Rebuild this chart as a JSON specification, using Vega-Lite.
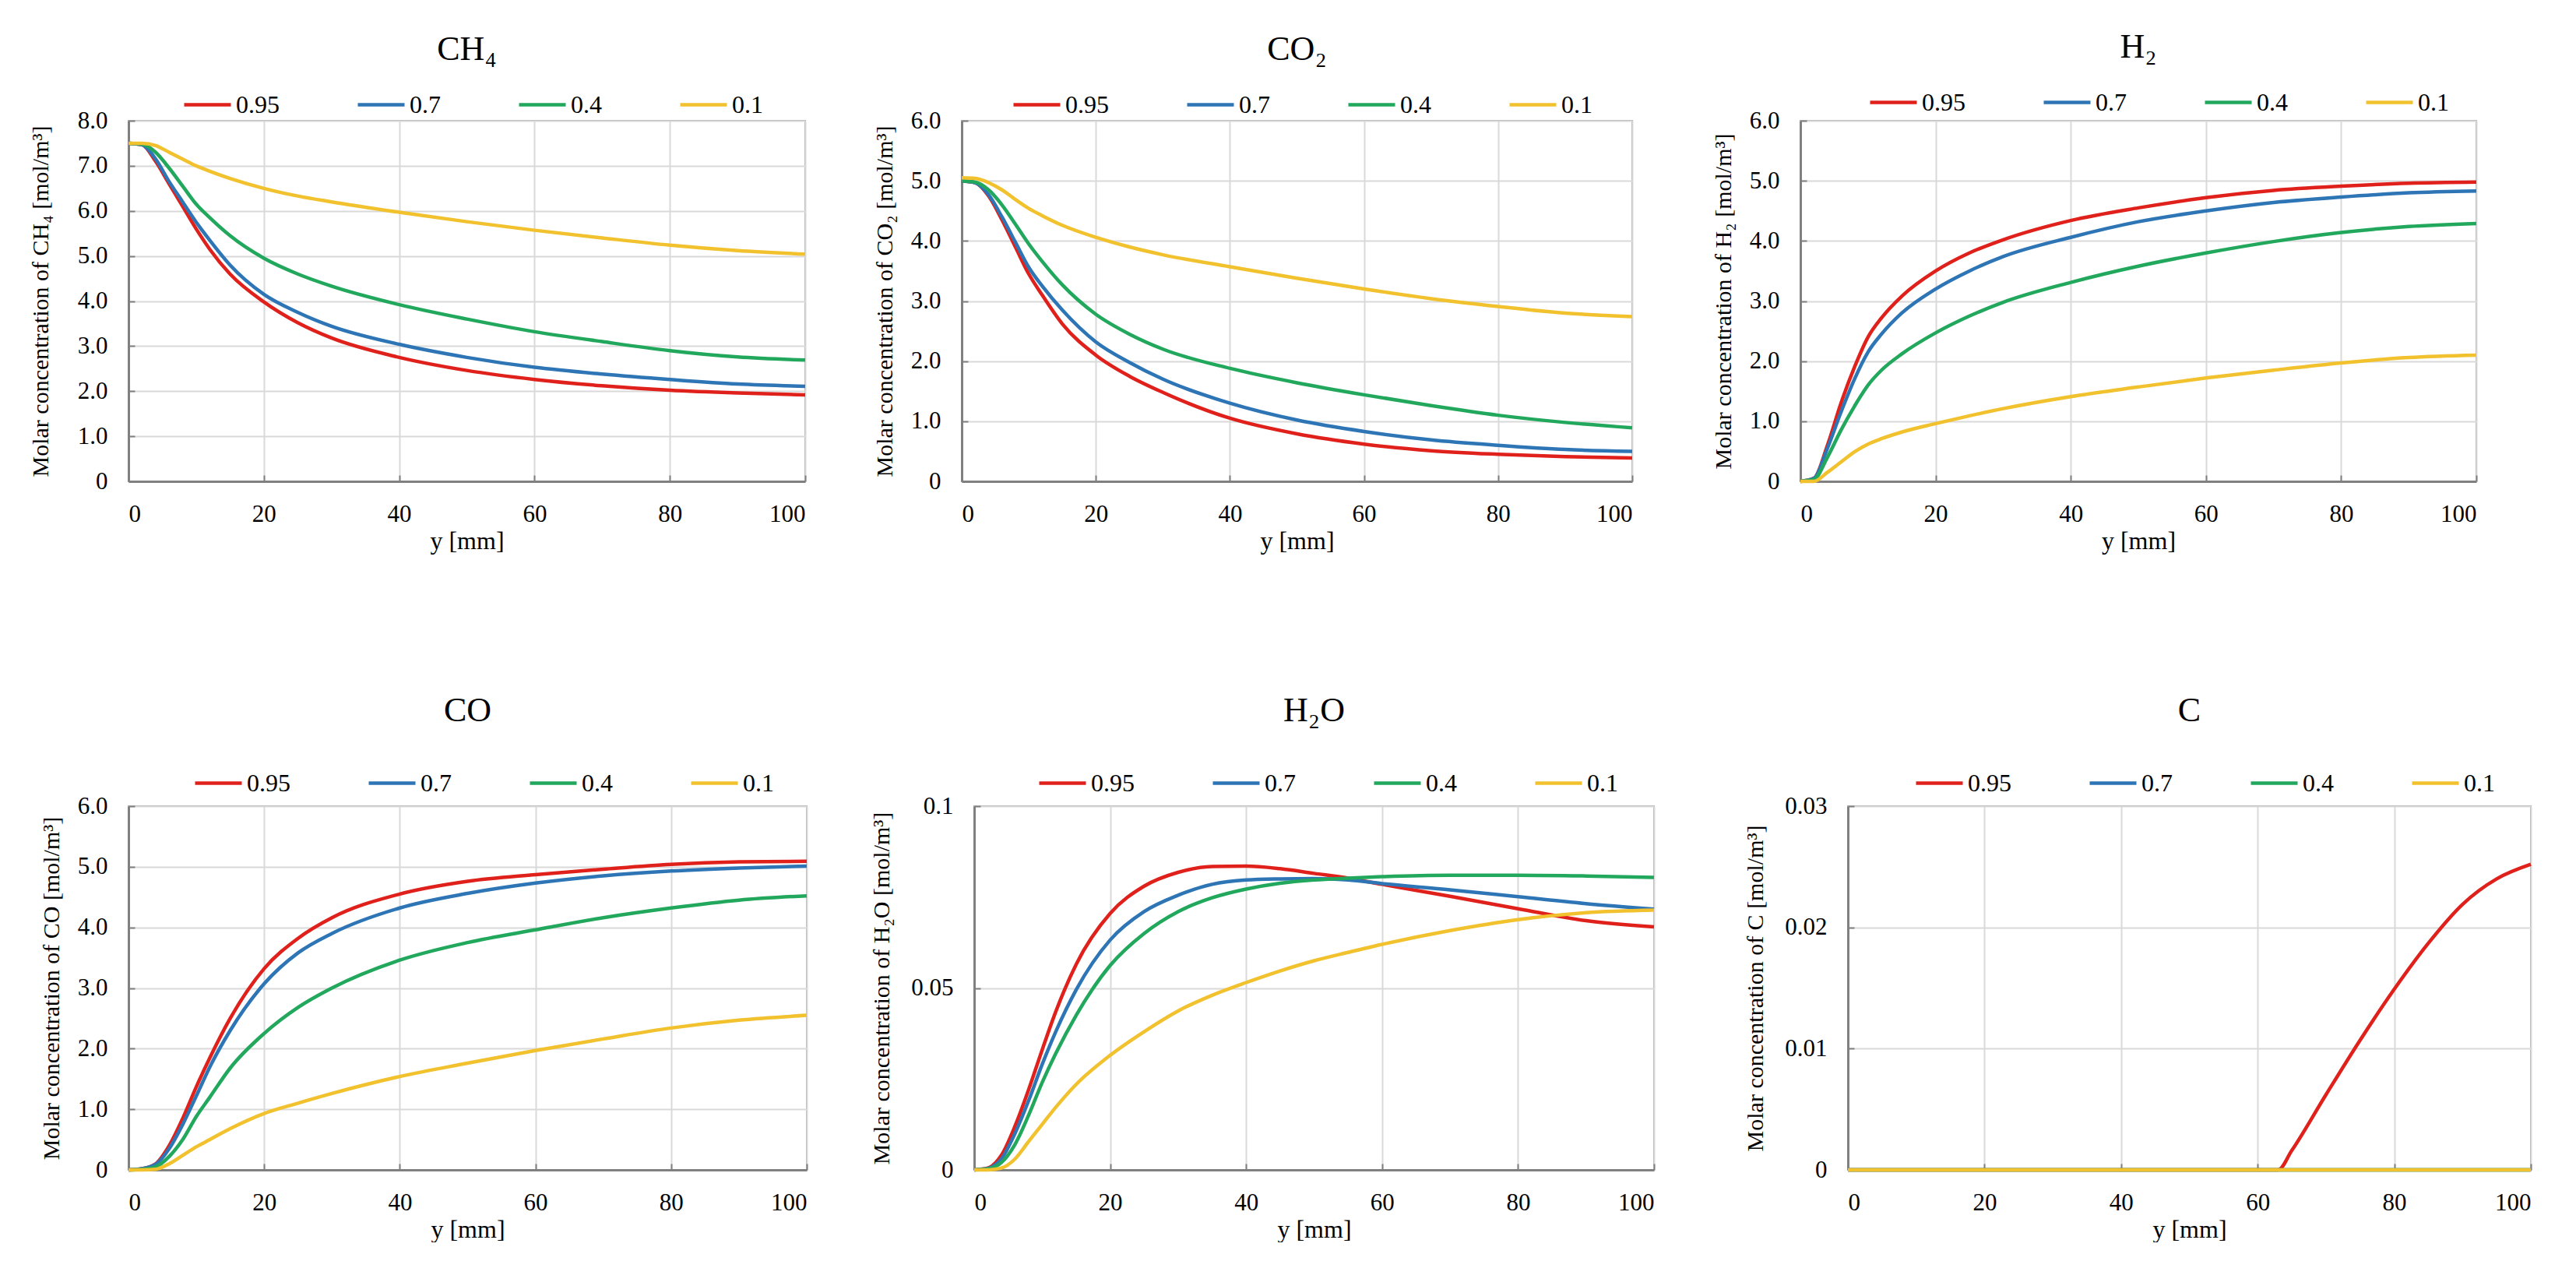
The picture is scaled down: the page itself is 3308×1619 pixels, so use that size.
{
  "$schema": "https://vega.github.io/schema/vega-lite/v6.json",
  "background": "white",
  "padding": {"left": 36, "top": 38, "right": 0, "bottom": 0},
  "datasets": {
    "CH4": [
      {"p":"0.95","x":0,"c":7.5},{"p":"0.95","x":2,"c":7.47},{"p":"0.95","x":4,"c":7.1},{"p":"0.95","x":6,"c":6.6},{"p":"0.95","x":8,"c":6.1},{"p":"0.95","x":10,"c":5.6},{"p":"0.95","x":12,"c":5.15},{"p":"0.95","x":15,"c":4.6},{"p":"0.95","x":20,"c":3.98},{"p":"0.95","x":25,"c":3.52},{"p":"0.95","x":30,"c":3.18},{"p":"0.95","x":40,"c":2.75},{"p":"0.95","x":50,"c":2.46},{"p":"0.95","x":60,"c":2.26},{"p":"0.95","x":70,"c":2.12},{"p":"0.95","x":80,"c":2.02},{"p":"0.95","x":90,"c":1.96},{"p":"0.95","x":100,"c":1.92},
      {"p":"0.7","x":0,"c":7.5},{"p":"0.7","x":2,"c":7.47},{"p":"0.7","x":4,"c":7.15},{"p":"0.7","x":6,"c":6.65},{"p":"0.7","x":8,"c":6.2},{"p":"0.7","x":10,"c":5.75},{"p":"0.7","x":12,"c":5.35},{"p":"0.7","x":15,"c":4.8},{"p":"0.7","x":20,"c":4.15},{"p":"0.7","x":25,"c":3.75},{"p":"0.7","x":30,"c":3.44},{"p":"0.7","x":40,"c":3.04},{"p":"0.7","x":50,"c":2.75},{"p":"0.7","x":60,"c":2.53},{"p":"0.7","x":70,"c":2.38},{"p":"0.7","x":80,"c":2.26},{"p":"0.7","x":90,"c":2.16},{"p":"0.7","x":100,"c":2.11},
      {"p":"0.4","x":0,"c":7.5},{"p":"0.4","x":2,"c":7.48},{"p":"0.4","x":4,"c":7.3},{"p":"0.4","x":6,"c":6.95},{"p":"0.4","x":8,"c":6.55},{"p":"0.4","x":10,"c":6.15},{"p":"0.4","x":12,"c":5.85},{"p":"0.4","x":15,"c":5.45},{"p":"0.4","x":20,"c":4.95},{"p":"0.4","x":25,"c":4.6},{"p":"0.4","x":30,"c":4.33},{"p":"0.4","x":40,"c":3.92},{"p":"0.4","x":50,"c":3.6},{"p":"0.4","x":60,"c":3.32},{"p":"0.4","x":70,"c":3.1},{"p":"0.4","x":80,"c":2.9},{"p":"0.4","x":90,"c":2.76},{"p":"0.4","x":100,"c":2.69},
      {"p":"0.1","x":0,"c":7.5},{"p":"0.1","x":2,"c":7.5},{"p":"0.1","x":4,"c":7.45},{"p":"0.1","x":6,"c":7.3},{"p":"0.1","x":8,"c":7.15},{"p":"0.1","x":10,"c":7.0},{"p":"0.1","x":12,"c":6.88},{"p":"0.1","x":15,"c":6.72},{"p":"0.1","x":20,"c":6.5},{"p":"0.1","x":25,"c":6.33},{"p":"0.1","x":30,"c":6.2},{"p":"0.1","x":40,"c":5.97},{"p":"0.1","x":50,"c":5.76},{"p":"0.1","x":60,"c":5.57},{"p":"0.1","x":70,"c":5.4},{"p":"0.1","x":80,"c":5.24},{"p":"0.1","x":90,"c":5.12},{"p":"0.1","x":100,"c":5.04}
    ],
    "CO2": [
      {"p":"0.95","x":0,"c":5.0},{"p":"0.95","x":2,"c":4.97},{"p":"0.95","x":4,"c":4.75},{"p":"0.95","x":6,"c":4.35},{"p":"0.95","x":8,"c":3.9},{"p":"0.95","x":10,"c":3.45},{"p":"0.95","x":12,"c":3.1},{"p":"0.95","x":15,"c":2.62},{"p":"0.95","x":20,"c":2.1},{"p":"0.95","x":25,"c":1.75},{"p":"0.95","x":30,"c":1.48},{"p":"0.95","x":40,"c":1.05},{"p":"0.95","x":50,"c":0.79},{"p":"0.95","x":60,"c":0.62},{"p":"0.95","x":70,"c":0.51},{"p":"0.95","x":80,"c":0.45},{"p":"0.95","x":90,"c":0.41},{"p":"0.95","x":100,"c":0.39},
      {"p":"0.7","x":0,"c":5.0},{"p":"0.7","x":2,"c":4.97},{"p":"0.7","x":4,"c":4.77},{"p":"0.7","x":6,"c":4.4},{"p":"0.7","x":8,"c":3.98},{"p":"0.7","x":10,"c":3.56},{"p":"0.7","x":12,"c":3.25},{"p":"0.7","x":15,"c":2.85},{"p":"0.7","x":20,"c":2.32},{"p":"0.7","x":25,"c":1.98},{"p":"0.7","x":30,"c":1.7},{"p":"0.7","x":40,"c":1.3},{"p":"0.7","x":50,"c":1.02},{"p":"0.7","x":60,"c":0.83},{"p":"0.7","x":70,"c":0.69},{"p":"0.7","x":80,"c":0.6},{"p":"0.7","x":90,"c":0.53},{"p":"0.7","x":100,"c":0.5},
      {"p":"0.4","x":0,"c":5.0},{"p":"0.4","x":2,"c":4.98},{"p":"0.4","x":4,"c":4.85},{"p":"0.4","x":6,"c":4.6},{"p":"0.4","x":8,"c":4.28},{"p":"0.4","x":10,"c":3.95},{"p":"0.4","x":12,"c":3.66},{"p":"0.4","x":15,"c":3.27},{"p":"0.4","x":20,"c":2.78},{"p":"0.4","x":25,"c":2.45},{"p":"0.4","x":30,"c":2.2},{"p":"0.4","x":40,"c":1.88},{"p":"0.4","x":50,"c":1.64},{"p":"0.4","x":60,"c":1.44},{"p":"0.4","x":70,"c":1.26},{"p":"0.4","x":80,"c":1.1},{"p":"0.4","x":90,"c":0.98},{"p":"0.4","x":100,"c":0.89},
      {"p":"0.1","x":0,"c":5.05},{"p":"0.1","x":2,"c":5.04},{"p":"0.1","x":4,"c":4.97},{"p":"0.1","x":6,"c":4.85},{"p":"0.1","x":8,"c":4.69},{"p":"0.1","x":10,"c":4.54},{"p":"0.1","x":12,"c":4.42},{"p":"0.1","x":15,"c":4.26},{"p":"0.1","x":20,"c":4.06},{"p":"0.1","x":25,"c":3.9},{"p":"0.1","x":30,"c":3.77},{"p":"0.1","x":40,"c":3.57},{"p":"0.1","x":50,"c":3.38},{"p":"0.1","x":60,"c":3.2},{"p":"0.1","x":70,"c":3.04},{"p":"0.1","x":80,"c":2.91},{"p":"0.1","x":90,"c":2.8},{"p":"0.1","x":100,"c":2.74}
    ],
    "H2": [
      {"p":"0.95","x":0,"c":0},{"p":"0.95","x":2,"c":0.05},{"p":"0.95","x":4,"c":0.6},{"p":"0.95","x":6,"c":1.3},{"p":"0.95","x":8,"c":1.9},{"p":"0.95","x":10,"c":2.4},{"p":"0.95","x":12,"c":2.72},{"p":"0.95","x":15,"c":3.08},{"p":"0.95","x":20,"c":3.5},{"p":"0.95","x":25,"c":3.8},{"p":"0.95","x":30,"c":4.02},{"p":"0.95","x":40,"c":4.34},{"p":"0.95","x":50,"c":4.55},{"p":"0.95","x":60,"c":4.72},{"p":"0.95","x":70,"c":4.84},{"p":"0.95","x":80,"c":4.91},{"p":"0.95","x":90,"c":4.96},{"p":"0.95","x":100,"c":4.98},
      {"p":"0.7","x":0,"c":0},{"p":"0.7","x":2,"c":0.05},{"p":"0.7","x":4,"c":0.55},{"p":"0.7","x":6,"c":1.15},{"p":"0.7","x":8,"c":1.7},{"p":"0.7","x":10,"c":2.15},{"p":"0.7","x":12,"c":2.45},{"p":"0.7","x":15,"c":2.8},{"p":"0.7","x":20,"c":3.2},{"p":"0.7","x":25,"c":3.5},{"p":"0.7","x":30,"c":3.74},{"p":"0.7","x":40,"c":4.06},{"p":"0.7","x":50,"c":4.32},{"p":"0.7","x":60,"c":4.5},{"p":"0.7","x":70,"c":4.64},{"p":"0.7","x":80,"c":4.73},{"p":"0.7","x":90,"c":4.8},{"p":"0.7","x":100,"c":4.83},
      {"p":"0.4","x":0,"c":0},{"p":"0.4","x":2,"c":0.03},{"p":"0.4","x":4,"c":0.4},{"p":"0.4","x":6,"c":0.85},{"p":"0.4","x":8,"c":1.25},{"p":"0.4","x":10,"c":1.6},{"p":"0.4","x":12,"c":1.85},{"p":"0.4","x":15,"c":2.12},{"p":"0.4","x":20,"c":2.47},{"p":"0.4","x":25,"c":2.75},{"p":"0.4","x":30,"c":2.98},{"p":"0.4","x":40,"c":3.31},{"p":"0.4","x":50,"c":3.58},{"p":"0.4","x":60,"c":3.8},{"p":"0.4","x":70,"c":3.99},{"p":"0.4","x":80,"c":4.14},{"p":"0.4","x":90,"c":4.24},{"p":"0.4","x":100,"c":4.29},
      {"p":"0.1","x":0,"c":0},{"p":"0.1","x":2,"c":0.0},{"p":"0.1","x":4,"c":0.15},{"p":"0.1","x":6,"c":0.32},{"p":"0.1","x":8,"c":0.49},{"p":"0.1","x":10,"c":0.62},{"p":"0.1","x":12,"c":0.71},{"p":"0.1","x":15,"c":0.82},{"p":"0.1","x":20,"c":0.96},{"p":"0.1","x":25,"c":1.09},{"p":"0.1","x":30,"c":1.21},{"p":"0.1","x":40,"c":1.41},{"p":"0.1","x":50,"c":1.57},{"p":"0.1","x":60,"c":1.72},{"p":"0.1","x":70,"c":1.85},{"p":"0.1","x":80,"c":1.97},{"p":"0.1","x":90,"c":2.06},{"p":"0.1","x":100,"c":2.1}
    ],
    "CO": [
      {"p":"0.95","x":0,"c":0},{"p":"0.95","x":2,"c":0.02},{"p":"0.95","x":4,"c":0.1},{"p":"0.95","x":6,"c":0.4},{"p":"0.95","x":8,"c":0.85},{"p":"0.95","x":10,"c":1.37},{"p":"0.95","x":12,"c":1.85},{"p":"0.95","x":15,"c":2.5},{"p":"0.95","x":20,"c":3.32},{"p":"0.95","x":25,"c":3.82},{"p":"0.95","x":30,"c":4.16},{"p":"0.95","x":40,"c":4.55},{"p":"0.95","x":50,"c":4.76},{"p":"0.95","x":60,"c":4.87},{"p":"0.95","x":70,"c":4.96},{"p":"0.95","x":80,"c":5.04},{"p":"0.95","x":90,"c":5.08},{"p":"0.95","x":100,"c":5.09},
      {"p":"0.7","x":0,"c":0},{"p":"0.7","x":2,"c":0.02},{"p":"0.7","x":4,"c":0.09},{"p":"0.7","x":6,"c":0.35},{"p":"0.7","x":8,"c":0.75},{"p":"0.7","x":10,"c":1.22},{"p":"0.7","x":12,"c":1.7},{"p":"0.7","x":15,"c":2.3},{"p":"0.7","x":20,"c":3.07},{"p":"0.7","x":25,"c":3.58},{"p":"0.7","x":30,"c":3.9},{"p":"0.7","x":40,"c":4.32},{"p":"0.7","x":50,"c":4.56},{"p":"0.7","x":60,"c":4.73},{"p":"0.7","x":70,"c":4.85},{"p":"0.7","x":80,"c":4.93},{"p":"0.7","x":90,"c":4.98},{"p":"0.7","x":100,"c":5.01},
      {"p":"0.4","x":0,"c":0},{"p":"0.4","x":2,"c":0.01},{"p":"0.4","x":4,"c":0.05},{"p":"0.4","x":6,"c":0.22},{"p":"0.4","x":8,"c":0.5},{"p":"0.4","x":10,"c":0.88},{"p":"0.4","x":12,"c":1.2},{"p":"0.4","x":15,"c":1.68},{"p":"0.4","x":20,"c":2.25},{"p":"0.4","x":25,"c":2.68},{"p":"0.4","x":30,"c":3.0},{"p":"0.4","x":40,"c":3.46},{"p":"0.4","x":50,"c":3.75},{"p":"0.4","x":60,"c":3.96},{"p":"0.4","x":70,"c":4.16},{"p":"0.4","x":80,"c":4.32},{"p":"0.4","x":90,"c":4.45},{"p":"0.4","x":100,"c":4.52},
      {"p":"0.1","x":0,"c":0},{"p":"0.1","x":2,"c":0},{"p":"0.1","x":4,"c":0.01},{"p":"0.1","x":6,"c":0.1},{"p":"0.1","x":8,"c":0.24},{"p":"0.1","x":10,"c":0.38},{"p":"0.1","x":12,"c":0.5},{"p":"0.1","x":15,"c":0.68},{"p":"0.1","x":20,"c":0.93},{"p":"0.1","x":25,"c":1.1},{"p":"0.1","x":30,"c":1.26},{"p":"0.1","x":40,"c":1.54},{"p":"0.1","x":50,"c":1.76},{"p":"0.1","x":60,"c":1.97},{"p":"0.1","x":70,"c":2.16},{"p":"0.1","x":80,"c":2.34},{"p":"0.1","x":90,"c":2.47},{"p":"0.1","x":100,"c":2.55}
    ],
    "H2O": [
      {"p":"0.95","x":0,"c":0},{"p":"0.95","x":2,"c":0.0005},{"p":"0.95","x":4,"c":0.004},{"p":"0.95","x":6,"c":0.012},{"p":"0.95","x":8,"c":0.022},{"p":"0.95","x":10,"c":0.033},{"p":"0.95","x":12,"c":0.0435},{"p":"0.95","x":15,"c":0.0565},{"p":"0.95","x":20,"c":0.0705},{"p":"0.95","x":25,"c":0.078},{"p":"0.95","x":30,"c":0.0818},{"p":"0.95","x":35,"c":0.0834},{"p":"0.95","x":40,"c":0.0835},{"p":"0.95","x":45,"c":0.0828},{"p":"0.95","x":50,"c":0.0815},{"p":"0.95","x":55,"c":0.0802},{"p":"0.95","x":60,"c":0.0785},{"p":"0.95","x":70,"c":0.0752},{"p":"0.95","x":80,"c":0.0718},{"p":"0.95","x":90,"c":0.0685},{"p":"0.95","x":100,"c":0.0668},
      {"p":"0.7","x":0,"c":0},{"p":"0.7","x":2,"c":0.0004},{"p":"0.7","x":4,"c":0.003},{"p":"0.7","x":6,"c":0.01},{"p":"0.7","x":8,"c":0.019},{"p":"0.7","x":10,"c":0.029},{"p":"0.7","x":12,"c":0.038},{"p":"0.7","x":15,"c":0.0495},{"p":"0.7","x":20,"c":0.0632},{"p":"0.7","x":25,"c":0.071},{"p":"0.7","x":30,"c":0.0755},{"p":"0.7","x":35,"c":0.0785},{"p":"0.7","x":40,"c":0.0797},{"p":"0.7","x":45,"c":0.08},{"p":"0.7","x":50,"c":0.0801},{"p":"0.7","x":55,"c":0.0797},{"p":"0.7","x":60,"c":0.0787},{"p":"0.7","x":70,"c":0.077},{"p":"0.7","x":80,"c":0.0751},{"p":"0.7","x":90,"c":0.0732},{"p":"0.7","x":100,"c":0.0717},
      {"p":"0.4","x":0,"c":0},{"p":"0.4","x":2,"c":0.0003},{"p":"0.4","x":4,"c":0.002},{"p":"0.4","x":6,"c":0.007},{"p":"0.4","x":8,"c":0.015},{"p":"0.4","x":10,"c":0.024},{"p":"0.4","x":12,"c":0.032},{"p":"0.4","x":15,"c":0.0425},{"p":"0.4","x":20,"c":0.0562},{"p":"0.4","x":25,"c":0.065},{"p":"0.4","x":30,"c":0.071},{"p":"0.4","x":35,"c":0.0748},{"p":"0.4","x":40,"c":0.0772},{"p":"0.4","x":45,"c":0.0788},{"p":"0.4","x":50,"c":0.0797},{"p":"0.4","x":55,"c":0.0802},{"p":"0.4","x":60,"c":0.0806},{"p":"0.4","x":70,"c":0.081},{"p":"0.4","x":80,"c":0.081},{"p":"0.4","x":90,"c":0.0808},{"p":"0.4","x":100,"c":0.0804},
      {"p":"0.1","x":0,"c":0},{"p":"0.1","x":2,"c":0},{"p":"0.1","x":4,"c":0.0005},{"p":"0.1","x":6,"c":0.003},{"p":"0.1","x":8,"c":0.0078},{"p":"0.1","x":10,"c":0.0125},{"p":"0.1","x":12,"c":0.0172},{"p":"0.1","x":15,"c":0.0235},{"p":"0.1","x":20,"c":0.0315},{"p":"0.1","x":25,"c":0.038},{"p":"0.1","x":30,"c":0.0437},{"p":"0.1","x":35,"c":0.048},{"p":"0.1","x":40,"c":0.0515},{"p":"0.1","x":45,"c":0.0547},{"p":"0.1","x":50,"c":0.0575},{"p":"0.1","x":55,"c":0.0598},{"p":"0.1","x":60,"c":0.062},{"p":"0.1","x":70,"c":0.0658},{"p":"0.1","x":80,"c":0.0688},{"p":"0.1","x":90,"c":0.0707},{"p":"0.1","x":100,"c":0.0714}
    ],
    "C": [
      {"p":"0.95","x":0,"c":0},{"p":"0.95","x":30,"c":0},{"p":"0.95","x":63,"c":0},{"p":"0.95","x":65,"c":0.0016},{"p":"0.95","x":70,"c":0.0062},{"p":"0.95","x":75,"c":0.0107},{"p":"0.95","x":80,"c":0.0149},{"p":"0.95","x":85,"c":0.0187},{"p":"0.95","x":90,"c":0.0219},{"p":"0.95","x":95,"c":0.024},{"p":"0.95","x":100,"c":0.0252},
      {"p":"0.7","x":0,"c":0},{"p":"0.7","x":50,"c":0},{"p":"0.7","x":100,"c":0},
      {"p":"0.4","x":0,"c":0},{"p":"0.4","x":50,"c":0},{"p":"0.4","x":100,"c":0},
      {"p":"0.1","x":0,"c":0},{"p":"0.1","x":50,"c":0},{"p":"0.1","x":100,"c":0}
    ]
  },
  "vconcat": [
    {
      "spacing": 91,
      "resolve": {"legend": {"color": "independent"}},
      "hconcat": [
        {
          "spacing": 76,
          "resolve": {"legend": {"color": "independent"}},
          "hconcat": [
            {
              "width": 869, "height": 463,
              "title": {"text": "CH₄", "frame": "group", "offset": 16},
              "data": {"name": "CH4"},
              "mark": "line",
              "encoding": {
                "x": {"field": "x", "type": "quantitative", "scale": {"domain": [0, 100], "nice": false}, "axis": {"values": [0, 20, 40, 60, 80, 100], "title": "y [mm]"}},
                "y": {"field": "c", "type": "quantitative", "scale": {"domain": [0, 8], "nice": false}, "axis": {"values": [0, 1, 2, 3, 4, 5, 6, 7, 8], "labelExpr": "datum.value == 0 ? '0' : format(datum.value, '.1f')", "title": "Molar concentration of CH₄ [mol/m³]", "titlePadding": 32}},
                "color": {"field": "p", "type": "nominal", "scale": {"domain": ["0.95", "0.7", "0.4", "0.1"], "range": ["#e0201b", "#2e75b6", "#22a85c", "#f2c12e"]}, "legend": {"title": null, "legendX": 69, "legendY": -53}}
              }
            },
            {
              "width": 861, "height": 463,
              "title": {"text": "CO₂", "frame": "group", "offset": 16},
              "data": {"name": "CO2"},
              "mark": "line",
              "encoding": {
                "x": {"field": "x", "type": "quantitative", "scale": {"domain": [0, 100], "nice": false}, "axis": {"values": [0, 20, 40, 60, 80, 100], "title": "y [mm]"}},
                "y": {"field": "c", "type": "quantitative", "scale": {"domain": [0, 6], "nice": false}, "axis": {"values": [0, 1, 2, 3, 4, 5, 6], "labelExpr": "datum.value == 0 ? '0' : format(datum.value, '.1f')", "title": "Molar concentration of CO₂ [mol/m³]"}},
                "color": {"field": "p", "type": "nominal", "scale": {"domain": ["0.95", "0.7", "0.4", "0.1"], "range": ["#e0201b", "#2e75b6", "#22a85c", "#f2c12e"]}, "legend": {"title": null, "legendX": 64, "legendY": -53}}
              }
            }
          ]
        },
        {
          "width": 868, "height": 463,
          "title": {"text": "H₂", "frame": "group", "offset": 16},
          "data": {"name": "H2"},
          "mark": "line",
          "encoding": {
            "x": {"field": "x", "type": "quantitative", "scale": {"domain": [0, 100], "nice": false}, "axis": {"values": [0, 20, 40, 60, 80, 100], "title": "y [mm]"}},
            "y": {"field": "c", "type": "quantitative", "scale": {"domain": [0, 6], "nice": false}, "axis": {"values": [0, 1, 2, 3, 4, 5, 6], "labelExpr": "datum.value == 0 ? '0' : format(datum.value, '.1f')", "title": "Molar concentration of H₂ [mol/m³]"}},
            "color": {"field": "p", "type": "nominal", "scale": {"domain": ["0.95", "0.7", "0.4", "0.1"], "range": ["#e0201b", "#2e75b6", "#22a85c", "#f2c12e"]}, "legend": {"title": null, "legendX": 87, "legendY": -56}}
          }
        }
      ]
    },
    {
      "spacing": 104,
      "resolve": {"legend": {"color": "independent"}},
      "hconcat": [
        {
          "spacing": 70,
          "resolve": {"legend": {"color": "independent"}},
          "hconcat": [
            {
              "width": 871, "height": 467,
              "title": {"text": "CO", "frame": "group", "offset": 38},
              "data": {"name": "CO"},
              "mark": "line",
              "encoding": {
                "x": {"field": "x", "type": "quantitative", "scale": {"domain": [0, 100], "nice": false}, "axis": {"values": [0, 20, 40, 60, 80, 100], "title": "y [mm]"}},
                "y": {"field": "c", "type": "quantitative", "scale": {"domain": [0, 6], "nice": false}, "axis": {"values": [0, 1, 2, 3, 4, 5, 6], "labelExpr": "datum.value == 0 ? '0' : format(datum.value, '.1f')", "title": "Molar concentration of CO [mol/m³]"}},
                "color": {"field": "p", "type": "nominal", "scale": {"domain": ["0.95", "0.7", "0.4", "0.1"], "range": ["#e0201b", "#2e75b6", "#22a85c", "#f2c12e"]}, "legend": {"title": null, "legendX": 83, "legendY": -62}}
              }
            },
            {
              "width": 873, "height": 467,
              "title": {"text": "H₂O", "frame": "group", "offset": 38},
              "data": {"name": "H2O"},
              "mark": "line",
              "encoding": {
                "x": {"field": "x", "type": "quantitative", "scale": {"domain": [0, 100], "nice": false}, "axis": {"values": [0, 20, 40, 60, 80, 100], "title": "y [mm]"}},
                "y": {"field": "c", "type": "quantitative", "scale": {"domain": [0, 0.1], "nice": false}, "axis": {"values": [0, 0.05, 0.1], "labelExpr": "datum.value == 0 ? '0' : format(datum.value, '.2~f')", "title": "Molar concentration of H₂O [mol/m³]", "titlePadding": 22}},
                "color": {"field": "p", "type": "nominal", "scale": {"domain": ["0.95", "0.7", "0.4", "0.1"], "range": ["#e0201b", "#2e75b6", "#22a85c", "#f2c12e"]}, "legend": {"title": null, "legendX": 81, "legendY": -62}}
              }
            }
          ]
        },
        {
          "width": 877, "height": 467,
          "title": {"text": "C", "frame": "group", "offset": 38},
          "data": {"name": "C"},
          "mark": "line",
          "encoding": {
            "x": {"field": "x", "type": "quantitative", "scale": {"domain": [0, 100], "nice": false}, "axis": {"values": [0, 20, 40, 60, 80, 100], "title": "y [mm]"}},
            "y": {"field": "c", "type": "quantitative", "scale": {"domain": [0, 0.03], "nice": false}, "axis": {"values": [0, 0.01, 0.02, 0.03], "labelExpr": "datum.value == 0 ? '0' : format(datum.value, '.2f')", "title": "Molar concentration of C [mol/m³]", "titlePadding": 22}},
            "color": {"field": "p", "type": "nominal", "scale": {"domain": ["0.95", "0.7", "0.4", "0.1"], "range": ["#e0201b", "#2e75b6", "#22a85c", "#f2c12e"]}, "legend": {"title": null, "legendX": 85, "legendY": -62}}
          }
        }
      ]
    }
  ],
  "spacing": 179,
  "resolve": {"legend": {"color": "independent"}},
  "config": {
    "font": "Liberation Serif",
    "view": {"stroke": "#a6a6a6", "strokeWidth": 2},
    "line": {"strokeWidth": 4.5, "interpolate": "monotone"},
    "title": {"font": "Liberation Serif", "fontSize": 44, "fontWeight": "normal", "color": "#000000"},
    "axis": {
      "labelFont": "Liberation Serif", "labelFontSize": 31, "labelColor": "#000000",
      "titleFont": "Liberation Serif", "titleFontWeight": "normal", "titleColor": "#000000",
      "gridColor": "#d9d9d9", "gridWidth": 2,
      "domainColor": "#808080", "domainWidth": 3,
      "tickColor": "#808080", "tickWidth": 2, "tickSize": -8, "labelPadding": 35
    },
    "axisX": {"titleFontSize": 32, "titlePadding": 4, "labelAngle": 0},
    "axisY": {"titleFontSize": 30, "titlePadding": 18},
    "legend": {
      "orient": "none", "direction": "horizontal", "gridAlign": "none",
      "symbolType": "stroke", "symbolSize": 3600, "symbolStrokeWidth": 4.5,
      "labelFont": "Liberation Serif", "labelFontSize": 32, "labelColor": "#000000",
      "labelOffset": 4, "columnPadding": 91
    }
  }
}
